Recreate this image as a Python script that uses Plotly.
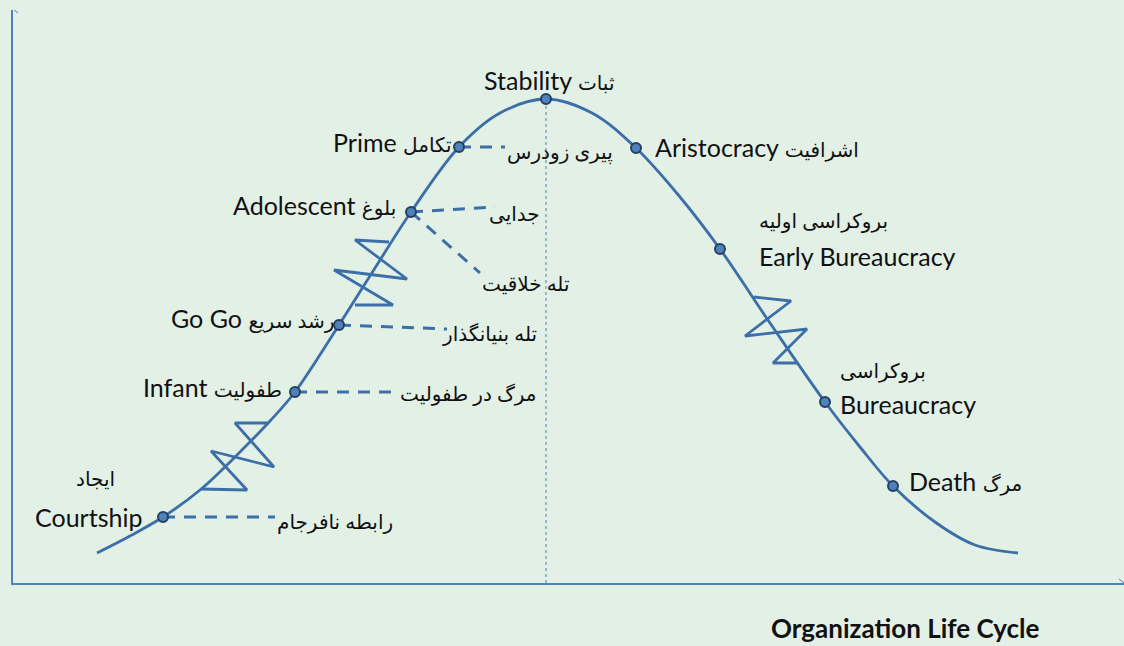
import plotly.graph_objects as go

# ---- data (chart units: x to the right of the y-axis, y above the x-axis) ----
curve_x = [84, 117, 150, 187, 227, 257, 282, 326, 362, 398, 446, 487, 533, 579, 623, 667, 707, 757, 812, 847, 880, 922, 962, 1005]
curve_y = [30, 47, 66, 93, 131, 162, 191, 258, 315, 371, 436, 470, 484, 470, 435, 386, 334, 260, 181, 136, 97, 61, 38, 30]

stage_names = ["Courtship", "Infant", "Go Go", "Adolescent", "Prime", "Stability",
               "Aristocracy", "Early Bureaucracy", "Bureaucracy", "Death"]
stage_fa = ["ایجاد", "طفولیت", "رشد سریع", "بلوغ", "تکامل", "ثبات",
            "اشرافیت", "بروکراسی اولیه", "بروکراسی", "مرگ"]
stage_x = [150, 282, 326, 398, 446, 533, 623, 707, 812, 880]
stage_y = [66, 191, 258, 371, 436, 484, 435, 334, 181, 97]

# traps: stage index -> end point of dashed line
trap_stage = [0, 1, 2, 3, 3, 4]
trap_end_x = [262, 387, 434, 482, 467, 492]
trap_end_y = [66, 191, 254, 376, 310, 436]
trap_labels = ["رابطه نافرجام", "مرگ در طفولیت", "تله بنیانگذار", "جدایی", "تله خلاقیت", "پیری زودرس"]

# zig-zag (transition) marks
zig1_x = [188, 234, 198, 261, 222, 256]
zig1_y = [94, 93, 132, 116, 160, 160]
zig2_x = [342, 380, 321, 394, 342, 376]
zig2_y = [278, 278, 313, 304, 343, 341]
zig3_x = [741, 778, 732, 794, 760, 785]
zig3_y = [286, 282, 247, 254, 220, 220]

title_text = "Organization Life Cycle"

BLUE = "#3C6FA8"
AXIS = "#4F81BD"
BG = "#E2F0E6"
FONT = "Lato, 'DejaVu Sans', sans-serif"

fig = go.Figure()

# peak divider (dotted)
peak = stage_names.index("Stability")
fig.add_trace(go.Scatter(x=[stage_x[peak], stage_x[peak]], y=[0, stage_y[peak]], mode="lines",
                         line=dict(color=AXIS, width=1, dash="dot"), hoverinfo="skip"))

# dashed trap lines
for i, s in enumerate(trap_stage):
    fig.add_trace(go.Scatter(x=[stage_x[s], trap_end_x[i]], y=[stage_y[s], trap_end_y[i]], mode="lines",
                             line=dict(color=BLUE, width=3, dash="12px,9px"), hoverinfo="skip"))

# zig-zags
for zx, zy in [(zig1_x, zig1_y), (zig2_x, zig2_y), (zig3_x, zig3_y)]:
    fig.add_trace(go.Scatter(x=zx, y=zy, mode="lines", line=dict(color=BLUE, width=2.8),
                             hoverinfo="skip"))

# curve
fig.add_trace(go.Scatter(x=curve_x, y=curve_y, mode="lines",
                         line=dict(color=BLUE, width=2.8, shape="spline", smoothing=1.0),
                         hoverinfo="skip"))

# stage markers
fig.add_trace(go.Scatter(x=stage_x, y=stage_y, mode="markers",
                         marker=dict(size=10, color="#4F81BD", line=dict(color="#263F5E", width=2)),
                         hoverinfo="skip"))

# axis arrow heads
fig.add_trace(go.Scatter(x=[-6, 0, 5], y=[569, 574, 570], mode="lines", line=dict(color=AXIS, width=1),
                         hoverinfo="skip", cliponaxis=False))
fig.add_trace(go.Scatter(x=[1106, 1111, 1106], y=[4, 0, -4], mode="lines", line=dict(color=AXIS, width=1),
                         hoverinfo="skip", cliponaxis=False))

# ---- labels ----
LAT = 25
FA = 20
FAM = 20


def mixed(en, fa):
    return en + " <span style='font-size:%dpx'>%s</span>" % (FAM, fa)


def fa_only(fa):
    return "<span style='font-size:%dpx'>%s</span>" % (FA, fa)


labels = [
    # text, x, y, xanchor
    (fa_only(stage_fa[0]), 82, 105, "center"),
    (stage_names[0], 131, 66, "right"),
    (mixed(stage_names[1], stage_fa[1]), 271, 196, "right"),
    (mixed(stage_names[2], stage_fa[2]), 323, 265, "right"),
    (mixed(stage_names[3], stage_fa[3]), 385, 378, "right"),
    (mixed(stage_names[4], stage_fa[4]), 441, 441, "right"),
    (mixed(stage_names[5], stage_fa[5]), 469, 503, "left"),
    (mixed(stage_names[6], stage_fa[6]), 640, 436, "left"),
    (fa_only(stage_fa[7]), 744, 363, "left"),
    (stage_names[7], 744, 327, "left"),
    (fa_only(stage_fa[8]), 825, 213, "left"),
    (stage_names[8], 825, 179, "left"),
    (mixed(stage_names[9], stage_fa[9]), 894, 102, "left"),
]
trap_pos = [(262, 62, "left"), (526, 190, "right"), (526, 250, "right"),
            (529, 370, "right"), (467, 300, "left"), (492, 431, "left")]
for i, t in enumerate(trap_labels):
    px, py, xa = trap_pos[i]
    labels.append((fa_only(t), px, py, xa))

annotations = []
for t, px, py, xa in labels:
    annotations.append(dict(x=px, y=py, text=t, showarrow=False, xanchor=xa, yanchor="middle",
                            font=dict(family=FONT, size=LAT, color="#111111")))
annotations.append(dict(xref="paper", yref="paper", x=892 / 1111, y=-45 / 573,
                        text="<b>" + title_text + "</b>", showarrow=False,
                        xanchor="center", yanchor="middle",
                        font=dict(family=FONT, size=26, color="#111111")))

fig.update_layout(
    width=1124, height=646,
    margin=dict(l=13, r=0, t=10, b=63),
    paper_bgcolor=BG, plot_bgcolor=BG,
    showlegend=False,
    annotations=annotations,
    xaxis=dict(range=[0, 1111], showgrid=False, zeroline=False, showticklabels=False, ticks="",
               showline=True, linecolor=AXIS, linewidth=1.5, fixedrange=True),
    yaxis=dict(range=[0, 573], showgrid=False, zeroline=False, showticklabels=False, ticks="",
               showline=True, linecolor=AXIS, linewidth=1.5, fixedrange=True),
)

fig.write_html("out.html", config={"displayModeBar": False},
               post_script="document.body.style.margin='0';document.body.style.overflow='hidden';document.body.style.background='" + BG + "';")
